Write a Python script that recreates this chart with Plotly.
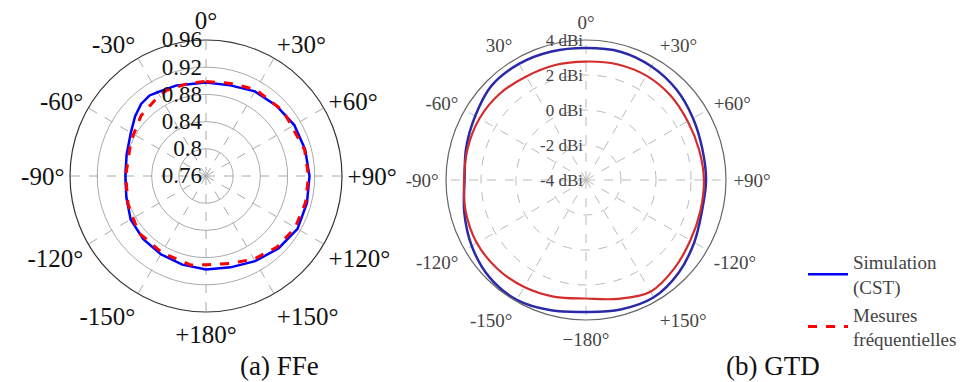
import plotly.graph_objects as go

# ---------------- data ----------------
# (a) FFe  - angles in degrees (0 at top, clockwise), values on radial scale
theta_sim_a = [0, 15, 30, 45, 60, 75, 90, 105, 120, 135, 150, 165, 180,
               -165, -150, -135, -120, -105, -90, -75, -60, -50, -42, -35, -30, -18, 0]
r_sim_a = [0.8975, 0.898, 0.9037, 0.9063, 0.9099, 0.9109, 0.9122, 0.9137, 0.9154,
           0.9106, 0.9046, 0.8991, 0.8975, 0.8949, 0.8929, 0.8909, 0.8879, 0.8813,
           0.8784, 0.8809, 0.8876, 0.8962, 0.9026, 0.9046, 0.9022, 0.9001, 0.8975]

theta_mes_a = [0, 15, 30, 50, 75, 90, 105, 120, 135, 150, 165, 180,
               -170, -150, -130, -110, -90, -65, -47, -34, -25, -10, 0]
r_mes_a = [0.899, 0.901, 0.9068, 0.9085, 0.910, 0.9107, 0.9115, 0.9115, 0.9078,
           0.9012, 0.893, 0.8906, 0.8928, 0.890, 0.8894, 0.882, 0.878, 0.8818,
           0.8904, 0.8944, 0.8987, 0.899, 0.899]

# (b) GTD - gain in dBi
theta_b = [0, 15, 30, 45, 60, 75, 90, 105, 120, 135, 150, 165, 180,
           -165, -150, -135, -120, -105, -90, -75, -60, -45, -30, -15, 0]
gain_sim_b = [3.54, 3.59, 3.49, 3.31, 3.06, 2.88, 2.86, 2.86, 3.14, 3.49, 3.74, 3.66, 3.54,
              3.71, 3.91, 3.83, 3.54, 3.20, 2.94, 3.09, 3.31, 3.63, 3.66, 3.60, 3.54]
gain_mes_b = [2.77, 2.85, 2.89, 2.83, 2.71, 2.69, 2.74, 2.77, 2.89, 3.14, 3.37, 3.03, 2.77,
              2.91, 3.06, 3.17, 3.20, 3.11, 2.97, 3.00, 3.03, 2.97, 2.83, 2.80, 2.77]

ang_tickvals = [0, 30, 60, 90, 120, 150, 180, 210, 240, 270, 300, 330]
ang_ticktext_a = ["0°", "+30°", "+60°", "+90°", "+120°", "+150°", "+180°",
                  "-150°", "-120°", "-90°", "-60°", "-30°"]
ang_ticktext_b = ["0°", "+30°", "+60°", "+90°", "-120°", "+150°", "−180°",
                  "-150°", "-120°", "-90°", "-60°", "30°"]

rad_tickvals_a = [0.76, 0.80, 0.84, 0.88, 0.92, 0.96]
rad_ticktext_a = ["0.76", "0.8", "0.84", "0.88", "0.92", "0.96"]
rad_tickvals_b = [-4, -2, 0, 2, 4]
rad_ticktext_b = ["-4 dBi", "-2 dBi", "0 dBi", "2 dBi", "4 dBi"]

legend_names = ["Simulation<br>(CST)", "Mesures<br>fréquentielles"]
subtitles = ["(a) FFe", "(b) GTD"]

FONT = "Liberation Serif, Times New Roman, serif"

# page body has an 8px margin: the figure is drawn in a 964x374 box offset by 8px
OFF = 8
W, H = 972 - OFF, 382 - OFF


def fx(X):
    return (X - OFF) / W


def fy(Y):
    return 1 - (Y - OFF) / H


fig = go.Figure()

fig.add_trace(go.Scatterpolar(theta=theta_sim_a, r=r_sim_a, mode="lines",
                              line=dict(color="#0000ff", width=2.5),
                              name=legend_names[0], subplot="polar", showlegend=True))
fig.add_trace(go.Scatterpolar(theta=theta_mes_a, r=r_mes_a, mode="lines",
                              line=dict(color="#ff0000", width=3, dash="dash"),
                              name=legend_names[1], subplot="polar", showlegend=True))
fig.add_trace(go.Scatterpolar(theta=theta_b, r=gain_sim_b, mode="lines",
                              line=dict(color="#2a2aa8", width=2.5, shape="spline"),
                              name=legend_names[0], subplot="polar2", showlegend=False))
fig.add_trace(go.Scatterpolar(theta=theta_b, r=gain_mes_b, mode="lines",
                              line=dict(color="#d42c2c", width=2.2, shape="spline"),
                              name=legend_names[1], subplot="polar2", showlegend=False))

fig.update_layout(
    width=W, height=H,
    margin=dict(l=0, r=0, t=0, b=0),
    paper_bgcolor="white",
    font=dict(family=FONT, color="#111"),
    polar=dict(
        domain=dict(x=[fx(70), fx(342)], y=[fy(312), fy(40)]),
        bgcolor="white",
        angularaxis=dict(rotation=90, direction="clockwise",
                         tickmode="array", tickvals=ang_tickvals, ticktext=ang_ticktext_a,
                         tickfont=dict(size=25, color="#111", family=FONT),
                         showline=True, linecolor="#333", linewidth=1.2,
                         showgrid=True, gridcolor="#aaaaaa", griddash="dash", gridwidth=1,
                         ticks=""),
        radialaxis=dict(range=[0.76, 0.96], angle=90, side="counterclockwise",
                        tickangle=90,
                        tickmode="array", tickvals=rad_tickvals_a, ticktext=rad_ticktext_a,
                        tickfont=dict(size=23, color="#111", family=FONT),
                        showline=False, ticks="",
                        showgrid=True, gridcolor="#aaaaaa", gridwidth=1),
    ),
    polar2=dict(
        domain=dict(x=[fx(446), fx(726)], y=[fy(320), fy(40)]),
        bgcolor="white",
        angularaxis=dict(rotation=90, direction="clockwise",
                         tickmode="array", tickvals=ang_tickvals, ticktext=ang_ticktext_b,
                         tickfont=dict(size=19, color="#444", family=FONT),
                         showline=True, linecolor="#666", linewidth=1.2,
                         showgrid=True, gridcolor="#bbbbbb", griddash="dash", gridwidth=1,
                         ticks="outside", ticklen=3, tickcolor="rgba(0,0,0,0)"),
        radialaxis=dict(range=[-4, 4], angle=90, side="counterclockwise",
                        tickangle=90,
                        tickmode="array", tickvals=rad_tickvals_b, ticktext=rad_ticktext_b,
                        tickfont=dict(size=17, color="#444", family=FONT),
                        showline=False, ticks="",
                        showgrid=True, gridcolor="#bbbbbb", griddash="dash", gridwidth=1),
    ),
    legend=dict(x=fx(803), y=fy(243), xanchor="left", yanchor="top",
                font=dict(size=19, color="#444", family=FONT),
                itemwidth=40,
                bgcolor="rgba(0,0,0,0)", tracegroupgap=0),
    annotations=[
        dict(text=subtitles[0], x=fx(279), y=fy(366), xref="paper", yref="paper",
             xanchor="center", yanchor="middle",
             showarrow=False, font=dict(size=27, color="#111", family=FONT)),
        dict(text=subtitles[1], x=fx(773), y=fy(366), xref="paper", yref="paper",
             xanchor="center", yanchor="middle",
             showarrow=False, font=dict(size=27, color="#111", family=FONT)),
    ],
)

fig.write_html("out.html")
